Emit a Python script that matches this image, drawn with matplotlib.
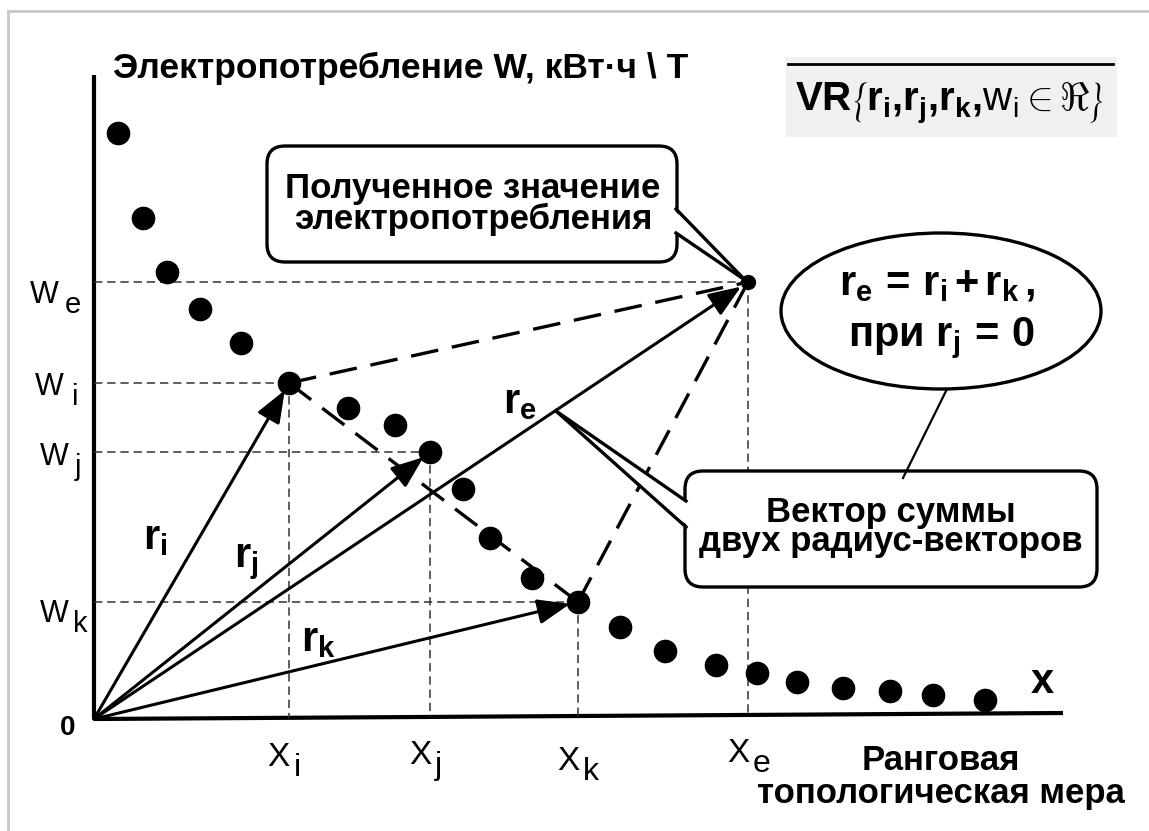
import matplotlib
matplotlib.use("Agg")
import matplotlib.pyplot as plt
from matplotlib.patches import FancyBboxPatch, Ellipse, Polygon, Rectangle

plt.rcParams["font.family"] = ["Liberation Sans", "DejaVu Sans"]
plt.rcParams["mathtext.fontset"] = "custom"
plt.rcParams["mathtext.rm"] = "Liberation Sans"
plt.rcParams["mathtext.bf"] = "Liberation Sans:bold"
plt.rcParams["mathtext.it"] = "Liberation Sans:italic"
plt.rcParams["lines.scale_dashes"] = False

# ---------------------------------------------------------------------------
# data (diagram units = pixels of the 1149x831 canvas, y grows downward)
# ---------------------------------------------------------------------------
rank_x = [118, 143, 167, 200, 241, 289, 348, 395, 430, 463, 490, 532,
          578, 620, 665, 716, 757, 797, 843, 890, 933, 985]
energy_w = [133, 218, 272, 309, 343, 383, 408, 425, 452, 489, 538, 578,
            602, 627, 651, 665, 673, 682, 688, 691, 695, 700]

origin = (94, 719)
x_end = (1063, 713)
y_top = 75

# reference points i, j, k and the resulting point e
ref_names = ["i", "j", "k", "e"]
ref_x = [289, 430, 578, 748]
ref_w = [383, 452, 602, 282]

# W_e, W_i, W_j, W_k labels: left edge of "W" and baseline
w_tick_names = ["e", "i", "j", "k"]
w_tick_left = [30, 35, 40, 40]
w_tick_base = [303, 395, 465, 622]
w_sub_left = [65, 72, 75, 73]

# X_i, X_j, X_k, X_e label baselines
x_tick_base = [766, 764, 770, 762]

vec_label_xy = {"i": (155, 538), "j": (246, 562), "k": (318, 640), "e": (520, 402)}

fig = plt.figure(figsize=(11.49, 8.31), dpi=100)
ax = fig.add_axes([0, 0, 1, 1])
ax.set_xlim(0, 1149)
ax.set_ylim(831, 0)
ax.axis("off")

# frame
ax.plot([8, 8], [11, 831], color="#c8c8c8", lw=2)
ax.plot([8, 1149], [11, 11], color="#c8c8c8", lw=2)

# axes
ax.plot([origin[0], origin[0]], [origin[1], y_top], color="black", lw=3, solid_capstyle="butt")
ax.plot([origin[0], x_end[0]], [origin[1], x_end[1]], color="black", lw=3, solid_capstyle="butt")

# thin dashed guide lines
guide = dict(color="#333333", lw=1.1, dashes=(6, 3.5))
for px, pw in zip(ref_x, ref_w):
    ax.plot([origin[0], px], [pw, pw], **guide)
    ax.plot([px, px], [pw, origin[1] - (px - origin[0]) * 0.0062], **guide)

# thick long-dashed lines between points
big_dash = dict(color="black", lw=2.4, dashes=(20, 10))
ix, jx, kx, ex = ref_x
iw, jw, kw, ew = ref_w
ax.plot([ix, ex], [iw, ew], **big_dash)
ax.plot([ix, kx], [iw, kw], **big_dash)
ax.plot([kx, ex], [kw, ew], **big_dash)

# radius vectors
for px, pw in zip(ref_x, ref_w):
    ax.annotate("", xy=(px, pw), xytext=origin,
                arrowprops=dict(arrowstyle="-|>,head_length=0.9,head_width=0.35",
                                color="black", lw=2.2, shrinkA=0, shrinkB=6,
                                mutation_scale=22))

# dots
ax.plot(rank_x, energy_w, "o", color="black", ms=16, zorder=5)
ax.plot([ex], [ew], "o", color="black", ms=10, zorder=5)

# labels on the axes
ax.text(68, 728, "0", fontsize=20, fontweight="bold", ha="center", va="center")
ax.text(113, 68, "Электропотребление W, кВт·ч \\ T", fontsize=25.5,
        fontweight="bold", ha="left", va="center")
ax.text(1042, 682, "x", fontsize=30, fontweight="bold", ha="center", va="center")
for name, lx, base, sx in zip(w_tick_names, w_tick_left, w_tick_base, w_sub_left):
    ax.text(lx, base, "W", fontsize=22, ha="left", va="baseline")
    ax.text(sx, base + 10, name, fontsize=21, ha="left", va="baseline")

for name, px, base in zip(["i", "j", "k", "e"], [ix, jx, kx, ex], x_tick_base):
    ax.text(px + 1, base, "X", fontsize=24, ha="right", va="baseline")
    ax.text(px + 5, base + 10, name, fontsize=23, ha="left", va="baseline")
ax.text(941, 760, "Ранговая", fontsize=25, fontweight="bold",
        ha="center", va="center")
ax.text(941, 793, "топологическая мера", fontsize=25,
        fontweight="bold", ha="center", va="center")

for name, (lx, ly) in vec_label_xy.items():
    ax.text(lx, ly, r"$\mathbf{r}_{\mathbf{%s}}$" % name, fontsize=30,
            ha="center", va="center")

# callout 1
box1 = FancyBboxPatch((267, 146), 410, 116,
                      boxstyle="round,pad=0,rounding_size=18",
                      fc="white", ec="black", lw=2.4, zorder=6)
ax.add_patch(box1)
ax.add_patch(Polygon([(674, 210), (674, 232), (ex - 3, ew - 2)], closed=True,
                     fc="white", ec="none", zorder=7))
ax.plot([676, ex - 3], [209, ew - 2], color="black", lw=2.4, zorder=8)
ax.plot([676, ex - 3], [233, ew - 2], color="black", lw=2.4, zorder=8)
ax.text(473, 204, "Полученное значение\nэлектропотребления", fontsize=25,
        fontweight="bold", ha="center", va="center", linespacing=0.88, zorder=9)

# callout 2
tip2 = (556, 411)
box2 = FancyBboxPatch((685, 471), 412, 116,
                      boxstyle="round,pad=0,rounding_size=18",
                      fc="white", ec="black", lw=2.4, zorder=6)
ax.add_patch(box2)
ax.add_patch(Polygon([(688, 502), (688, 526), tip2], closed=True,
                     fc="white", ec="none", zorder=7))
ax.plot([686, tip2[0]], [501, tip2[1]], color="black", lw=2.4, zorder=8)
ax.plot([686, tip2[0]], [527, tip2[1]], color="black", lw=2.4, zorder=8)
ax.text(891, 527, "Вектор суммы\nдвух радиус-векторов", fontsize=25,
        fontweight="bold", ha="center", va="center", linespacing=0.88, zorder=9)

# ellipse note
ax.add_patch(Ellipse((941, 311), 320, 156, fc="white", ec="black", lw=2.4, zorder=6))
ax.plot([947, 903], [389, 478], color="black", lw=1.6, zorder=8)
ax.text(937, 284, r"$\mathbf{r}_{\mathbf{e}}\,\mathbf{=}\,\mathbf{r}_{\mathbf{i}}"
        r"\,\mathbf{+}\,\mathbf{r}_{\mathbf{k}}\,\mathbf{,}$", fontsize=30,
        ha="center", va="center", zorder=9)
ax.text(941, 338, r"$\mathbf{при}\ \mathbf{r}_{\mathbf{j}}\,\mathbf{=}\,\mathbf{0}$",
        fontsize=30, ha="center", va="center", zorder=9)

# formula box
ax.add_patch(Rectangle((786, 57), 331, 80, fc="#f0f0f0", ec="none", zorder=1))
ax.plot([788, 1113], [64, 64], color="black", lw=2, zorder=2)
ax.text(949, 103,
        r"$\mathbf{VR}\left\{\mathbf{r}_{\mathbf{i}}\mathbf{,}\mathbf{r}_{\mathbf{j}}"
        r"\mathbf{,}\mathbf{r}_{\mathbf{k}}\mathbf{,}\mathrm{w}_{\mathrm{i}}\in\Re\right\}$",
        fontsize=29, ha="center", va="center", zorder=3)

fig.savefig("out.png", dpi=100)
